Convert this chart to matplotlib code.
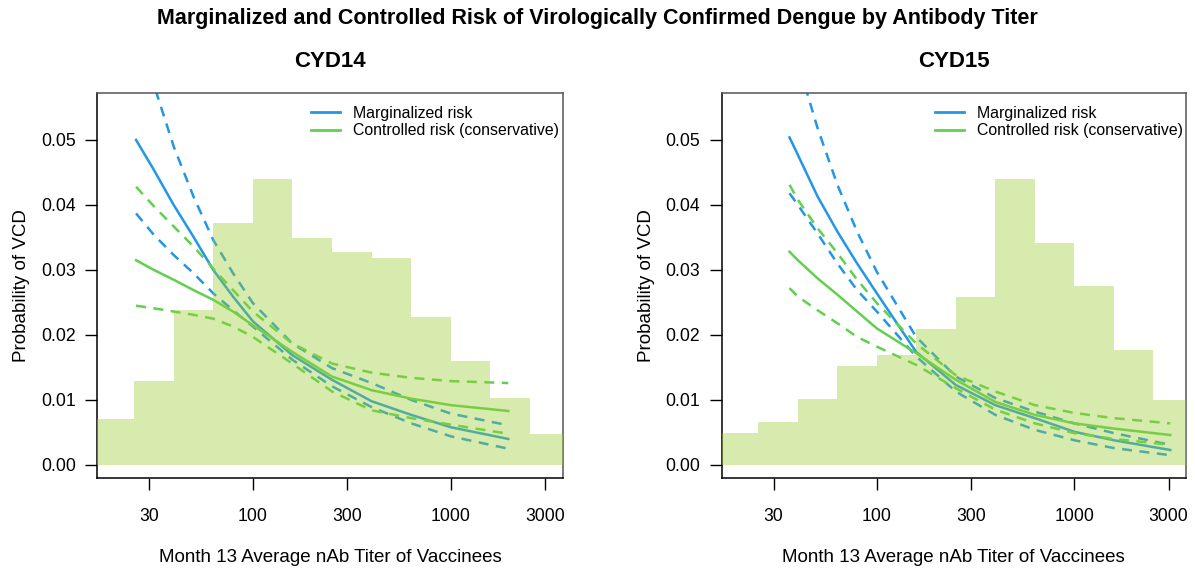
import numpy as np
import matplotlib
matplotlib.use("Agg")
import matplotlib.pyplot as plt
from matplotlib.ticker import FixedLocator, FixedFormatter, NullLocator

plt.rcParams['font.family'] = ['Liberation Sans', 'DejaVu Sans']

# ---------------- data ----------------
title_main = "Marginalized and Controlled Risk of Virologically Confirmed Dengue by Antibody Titer"
panel_titles = ["CYD14", "CYD15"]
x_label = "Month 13 Average nAb Titer of Vaccinees"
y_label = "Probability of VCD"
legend_labels = ["Marginalized risk", "Controlled risk (conservative)"]

x_ticks = [30, 100, 300, 1000, 3000]
x_tick_labels = ["30", "100", "300", "1000", "3000"]
y_ticks = [0.00, 0.01, 0.02, 0.03, 0.04, 0.05]
y_tick_labels = ["0.00", "0.01", "0.02", "0.03", "0.04", "0.05"]

# histogram bins (log10 titer edges) and bar heights (scaled to risk axis)
hist_edges_log10 = [1.2, 1.4, 1.6, 1.8, 2.0, 2.2, 2.4, 2.6, 2.8, 3.0, 3.2, 3.4, 3.6]
hist_cyd14 = [0.0071, 0.0129, 0.0238, 0.0372, 0.0440, 0.0349, 0.0328, 0.0318,
              0.0228, 0.0160, 0.0103, 0.0048]
hist_cyd15 = [0.0049, 0.0066, 0.0101, 0.0152, 0.0169, 0.0209, 0.0258, 0.0440,
              0.0341, 0.0275, 0.0177, 0.0100]

# CYD14 curves
titer_cyd14 = [25.7, 31.6, 39.8, 50.1, 63.1, 79.4, 100, 158, 251, 398, 631, 1000, 1950]
marg_cyd14 = [0.0500, 0.0454, 0.0400, 0.0351, 0.0300, 0.0259, 0.0221, 0.0169,
              0.0131, 0.0098, 0.0077, 0.0058, 0.0040]
marg_hi_cyd14 = [0.0680, 0.0585, 0.0490, 0.0413, 0.0346, 0.0295, 0.0249, 0.0187,
                 0.0149, 0.0126, 0.0100, 0.0079, 0.0061]
marg_lo_cyd14 = [0.0387, 0.0354, 0.0323, 0.0295, 0.0264, 0.0238, 0.0213, 0.0162,
                 0.0121, 0.0089, 0.0064, 0.0044, 0.0025]
ctrl_cyd14 = [0.0315, 0.0300, 0.0285, 0.0269, 0.0254, 0.0236, 0.0215, 0.0174,
              0.0136, 0.0115, 0.0102, 0.0092, 0.0083]
ctrl_hi_cyd14 = [0.0428, 0.0398, 0.0367, 0.0336, 0.0302, 0.0269, 0.0236, 0.0187,
                 0.0156, 0.0142, 0.0134, 0.0129, 0.0126]
ctrl_lo_cyd14 = [0.0245, 0.0241, 0.0236, 0.0231, 0.0225, 0.0213, 0.0197, 0.0156,
                 0.0113, 0.0084, 0.0072, 0.0062, 0.0048]

# CYD15 curves
titer_cyd15 = [36.1, 39.8, 50.1, 63.1, 79.4, 100, 158, 251, 398, 631, 1000, 1585, 3060]
marg_cyd15 = [0.0504, 0.0477, 0.0413, 0.0359, 0.0310, 0.0264, 0.0174, 0.0123,
              0.0092, 0.0072, 0.0051, 0.0038, 0.0023]
marg_hi_cyd15 = [0.0660, 0.0620, 0.0518, 0.0431, 0.0359, 0.0297, 0.0197, 0.0136,
                 0.0103, 0.0082, 0.0064, 0.0049, 0.0031]
marg_lo_cyd15 = [0.0418, 0.0400, 0.0356, 0.0310, 0.0269, 0.0236, 0.0167, 0.0113,
                 0.0077, 0.0054, 0.0038, 0.0026, 0.0015]
ctrl_cyd15 = [0.0328, 0.0315, 0.0287, 0.0262, 0.0236, 0.0210, 0.0172, 0.0131,
              0.0097, 0.0077, 0.0064, 0.0056, 0.0046]
ctrl_hi_cyd15 = [0.0431, 0.0408, 0.0364, 0.0326, 0.0285, 0.0249, 0.0187, 0.0138,
                 0.0113, 0.0092, 0.0080, 0.0072, 0.0064]
ctrl_lo_cyd15 = [0.0272, 0.0259, 0.0238, 0.0218, 0.0197, 0.0182, 0.0154, 0.0118,
                 0.0085, 0.0064, 0.0049, 0.0040, 0.0031]

# ---------------- style ----------------
BLUE = "#2297E6"
GREEN = "#61D04F"
BAR = "yellowgreen"

fig = plt.figure(figsize=(11.95, 5.75), dpi=100)
ax_l = fig.add_axes([0.0814, 0.1682, 0.3895, 0.6696])
ax_r = fig.add_axes([0.6039, 0.1682, 0.3885, 0.6696])

panels = [
    (ax_l, panel_titles[0], hist_cyd14, titer_cyd14,
     marg_cyd14, marg_hi_cyd14, marg_lo_cyd14, ctrl_cyd14, ctrl_hi_cyd14, ctrl_lo_cyd14),
    (ax_r, panel_titles[1], hist_cyd15, titer_cyd15,
     marg_cyd15, marg_hi_cyd15, marg_lo_cyd15, ctrl_cyd15, ctrl_hi_cyd15, ctrl_lo_cyd15),
]

edges = 10 ** np.array(hist_edges_log10)
lefts = edges[:-1]
widths = edges[1:] - edges[:-1]

for (ax, ttl, hist, tx, m, mhi, mlo, c, chi, clo) in panels:
    ax.set_xscale("log")
    lw = 1.8
    dash = (0, (4, 3))
    ax.plot(tx, m, color=BLUE, lw=lw, zorder=2, label=legend_labels[0])
    ax.plot(tx, mhi, color=BLUE, lw=lw, ls=dash, zorder=2)
    ax.plot(tx, mlo, color=BLUE, lw=lw, ls=dash, zorder=2)
    ax.plot(tx, c, color=GREEN, lw=lw, zorder=2, label=legend_labels[1])
    ax.plot(tx, chi, color=GREEN, lw=lw, ls=dash, zorder=2)
    ax.plot(tx, clo, color=GREEN, lw=lw, ls=dash, zorder=2)
    ax.bar(lefts, hist, width=widths, align="edge", color=BAR, alpha=0.4,
           linewidth=0, zorder=3)

    ax.set_xlim(10 ** 1.214, 10 ** 3.565)
    ax.set_ylim(-0.00205, 0.05718)

    ax.xaxis.set_major_locator(FixedLocator(x_ticks))
    ax.xaxis.set_major_formatter(FixedFormatter(x_tick_labels))
    ax.xaxis.set_minor_locator(NullLocator())
    ax.set_yticks(y_ticks)
    ax.set_yticklabels(y_tick_labels)
    ax.tick_params(axis="both", direction="out", length=8.4, width=1.0,
                   labelsize=12.7, color="black")
    ax.tick_params(axis="x", pad=13)
    ax.tick_params(axis="y", pad=7)

    for s in ["left", "bottom"]:
        ax.spines[s].set_color("black")
        ax.spines[s].set_linewidth(1.1)
    for s in ["top", "right"]:
        ax.spines[s].set_color("#555555")
        ax.spines[s].set_linewidth(1.1)

    ax.set_title(ttl, fontsize=16, fontweight="bold", pad=19)
    ax.set_xlabel(x_label, fontsize=13.5)
    ax.xaxis.set_label_coords(0.5, -0.207)
    ax.xaxis.label.set_va("center")
    ax.set_ylabel(y_label, fontsize=13.5)
    ax.yaxis.set_label_coords(-0.162, 0.5)
    ax.yaxis.label.set_va("center")

    leg = ax.legend(loc="upper left", bbox_to_anchor=(0.46, 0.968), frameon=False,
                    fontsize=11.4, handlelength=1.83, handletextpad=0.78,
                    labelspacing=0.17, borderpad=0, borderaxespad=0)
    for h in leg.get_lines():
        h.set_linewidth(2.0)

fig.suptitle(title_main, fontsize=15.5, fontweight="bold", y=0.968, va="center")

fig.savefig("out.png", dpi=100)
